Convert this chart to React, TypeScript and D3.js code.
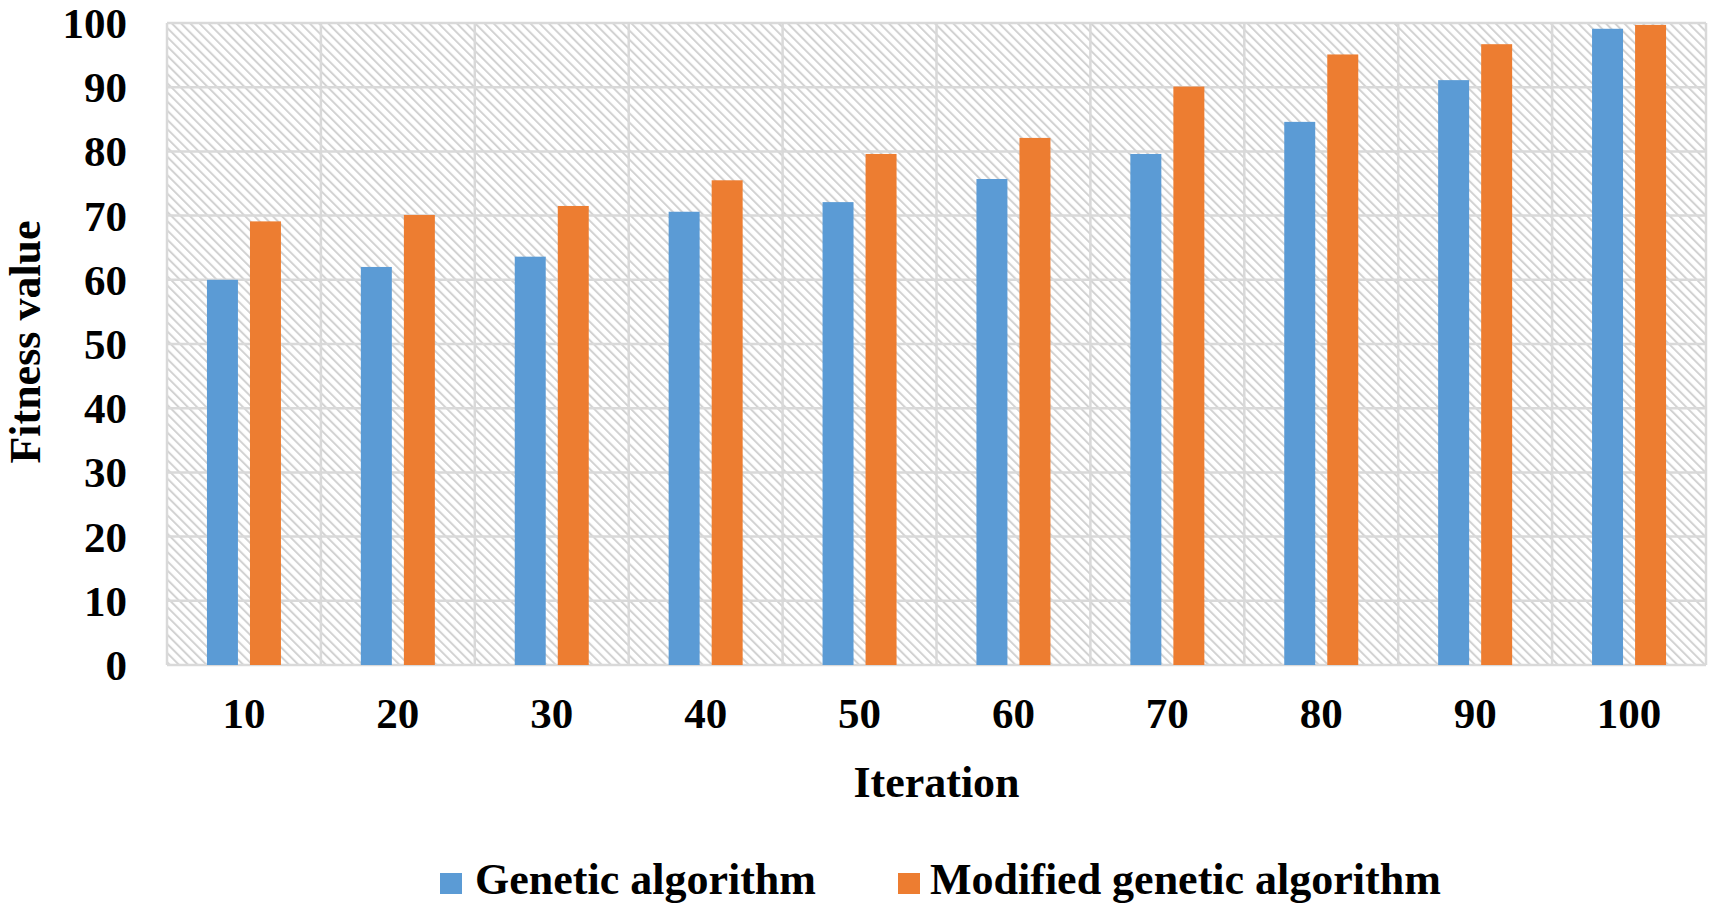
import React from "react";
import * as d3 from "d3";

const categories = ["10", "20", "30", "40", "50", "60", "70", "80", "90", "100"];
const geneticValues = [60.0, 62.0, 63.6, 70.6, 72.1, 75.7, 79.6, 84.6, 91.1, 99.1];
const modifiedValues = [69.1, 70.1, 71.5, 75.5, 79.6, 82.1, 90.1, 95.1, 96.7, 99.7];
const seriesNames = ["Genetic algorithm", "Modified genetic algorithm"];
const seriesColors = ["#5B9BD5", "#ED7D31"];
const yTicks = [0, 10, 20, 30, 40, 50, 60, 70, 80, 90, 100];

const W = 1713;
const H = 911;
const left = 167;
const right = 1706;
const top = 23;
const bottom = 665;
const font = "'Liberation Serif', 'Times New Roman', serif";

export default function App() {
  const x = d3.scaleBand<string>().domain(categories).range([left, right]).paddingInner(0).paddingOuter(0);
  const inner = d3.scaleBand<string>().domain(seriesNames).range([-37, 37]).paddingInner(0.28).paddingOuter(0);
  const y = d3.scaleLinear().domain([0, 100]).range([bottom, top]);
  const series = [geneticValues, modifiedValues];
  const legendSquareX = [440, 898];
  const legendTextX = [475, 930];

  return (
    <svg width={W} height={H} style={{ position: "absolute", left: 0, top: 0, background: "#fff" }}>
      <defs>
        <pattern id="hatch" patternUnits="userSpaceOnUse" width={6.5} height={6.5} patternTransform="rotate(-45)">
          <rect width={6.5} height={6.5} fill="#ffffff" />
          <line x1={1} y1={0} x2={1} y2={6.5} stroke="#d2d2d2" strokeWidth={2} />
        </pattern>
      </defs>
      <rect x={left} y={top} width={right - left} height={bottom - top} fill="url(#hatch)" />
      {yTicks.map((t) => (
        <line key={"h" + t} x1={left} x2={right} y1={y(t)} y2={y(t)} stroke="#d9d9d9" strokeWidth={2.5} />
      ))}
      {categories.map((c) => (
        <line key={"v" + c} x1={x(c)!} x2={x(c)!} y1={top} y2={bottom} stroke="#d9d9d9" strokeWidth={2.5} />
      ))}
      <line x1={right} x2={right} y1={top} y2={bottom} stroke="#d9d9d9" strokeWidth={2.5} />
      {series.map((vals, si) =>
        vals.map((v, i) => {
          const cx = x(categories[i])! + x.bandwidth() / 2;
          const bx = cx + inner(seriesNames[si])!;
          return (
            <rect
              key={si + "-" + i}
              x={bx}
              y={y(v)}
              width={inner.bandwidth()}
              height={y(0) - y(v)}
              fill={seriesColors[si]}
            />
          );
        })
      )}
      {yTicks.map((t) => (
        <text
          key={"yl" + t}
          x={127}
          y={y(t)}
          dy="0.35em"
          textAnchor="end"
          fontFamily={font}
          fontWeight="bold"
          fontSize={43}
          fill="#000"
        >
          {t}
        </text>
      ))}
      {categories.map((c) => (
        <text
          key={"xl" + c}
          x={x(c)! + x.bandwidth() / 2}
          y={728}
          textAnchor="middle"
          fontFamily={font}
          fontWeight="bold"
          fontSize={43}
          fill="#000"
        >
          {c}
        </text>
      ))}
      <text x={(left + right) / 2} y={797} textAnchor="middle" fontFamily={font} fontWeight="bold" fontSize={44} fill="#000">
        Iteration
      </text>
      <text
        transform={`translate(40, 342) rotate(-90)`}
        textAnchor="middle"
        fontFamily={font}
        fontWeight="bold"
        fontSize={44}
        fill="#000"
      >
        Fitness value
      </text>
      {seriesNames.map((n, i) => (
        <g key={"lg" + i}>
          <rect x={legendSquareX[i]} y={873} width={22} height={21} fill={seriesColors[i]} />
          <text x={legendTextX[i]} y={894} fontFamily={font} fontWeight="bold" fontSize={44} fill="#000">
            {n}
          </text>
        </g>
      ))}
    </svg>
  );
}
